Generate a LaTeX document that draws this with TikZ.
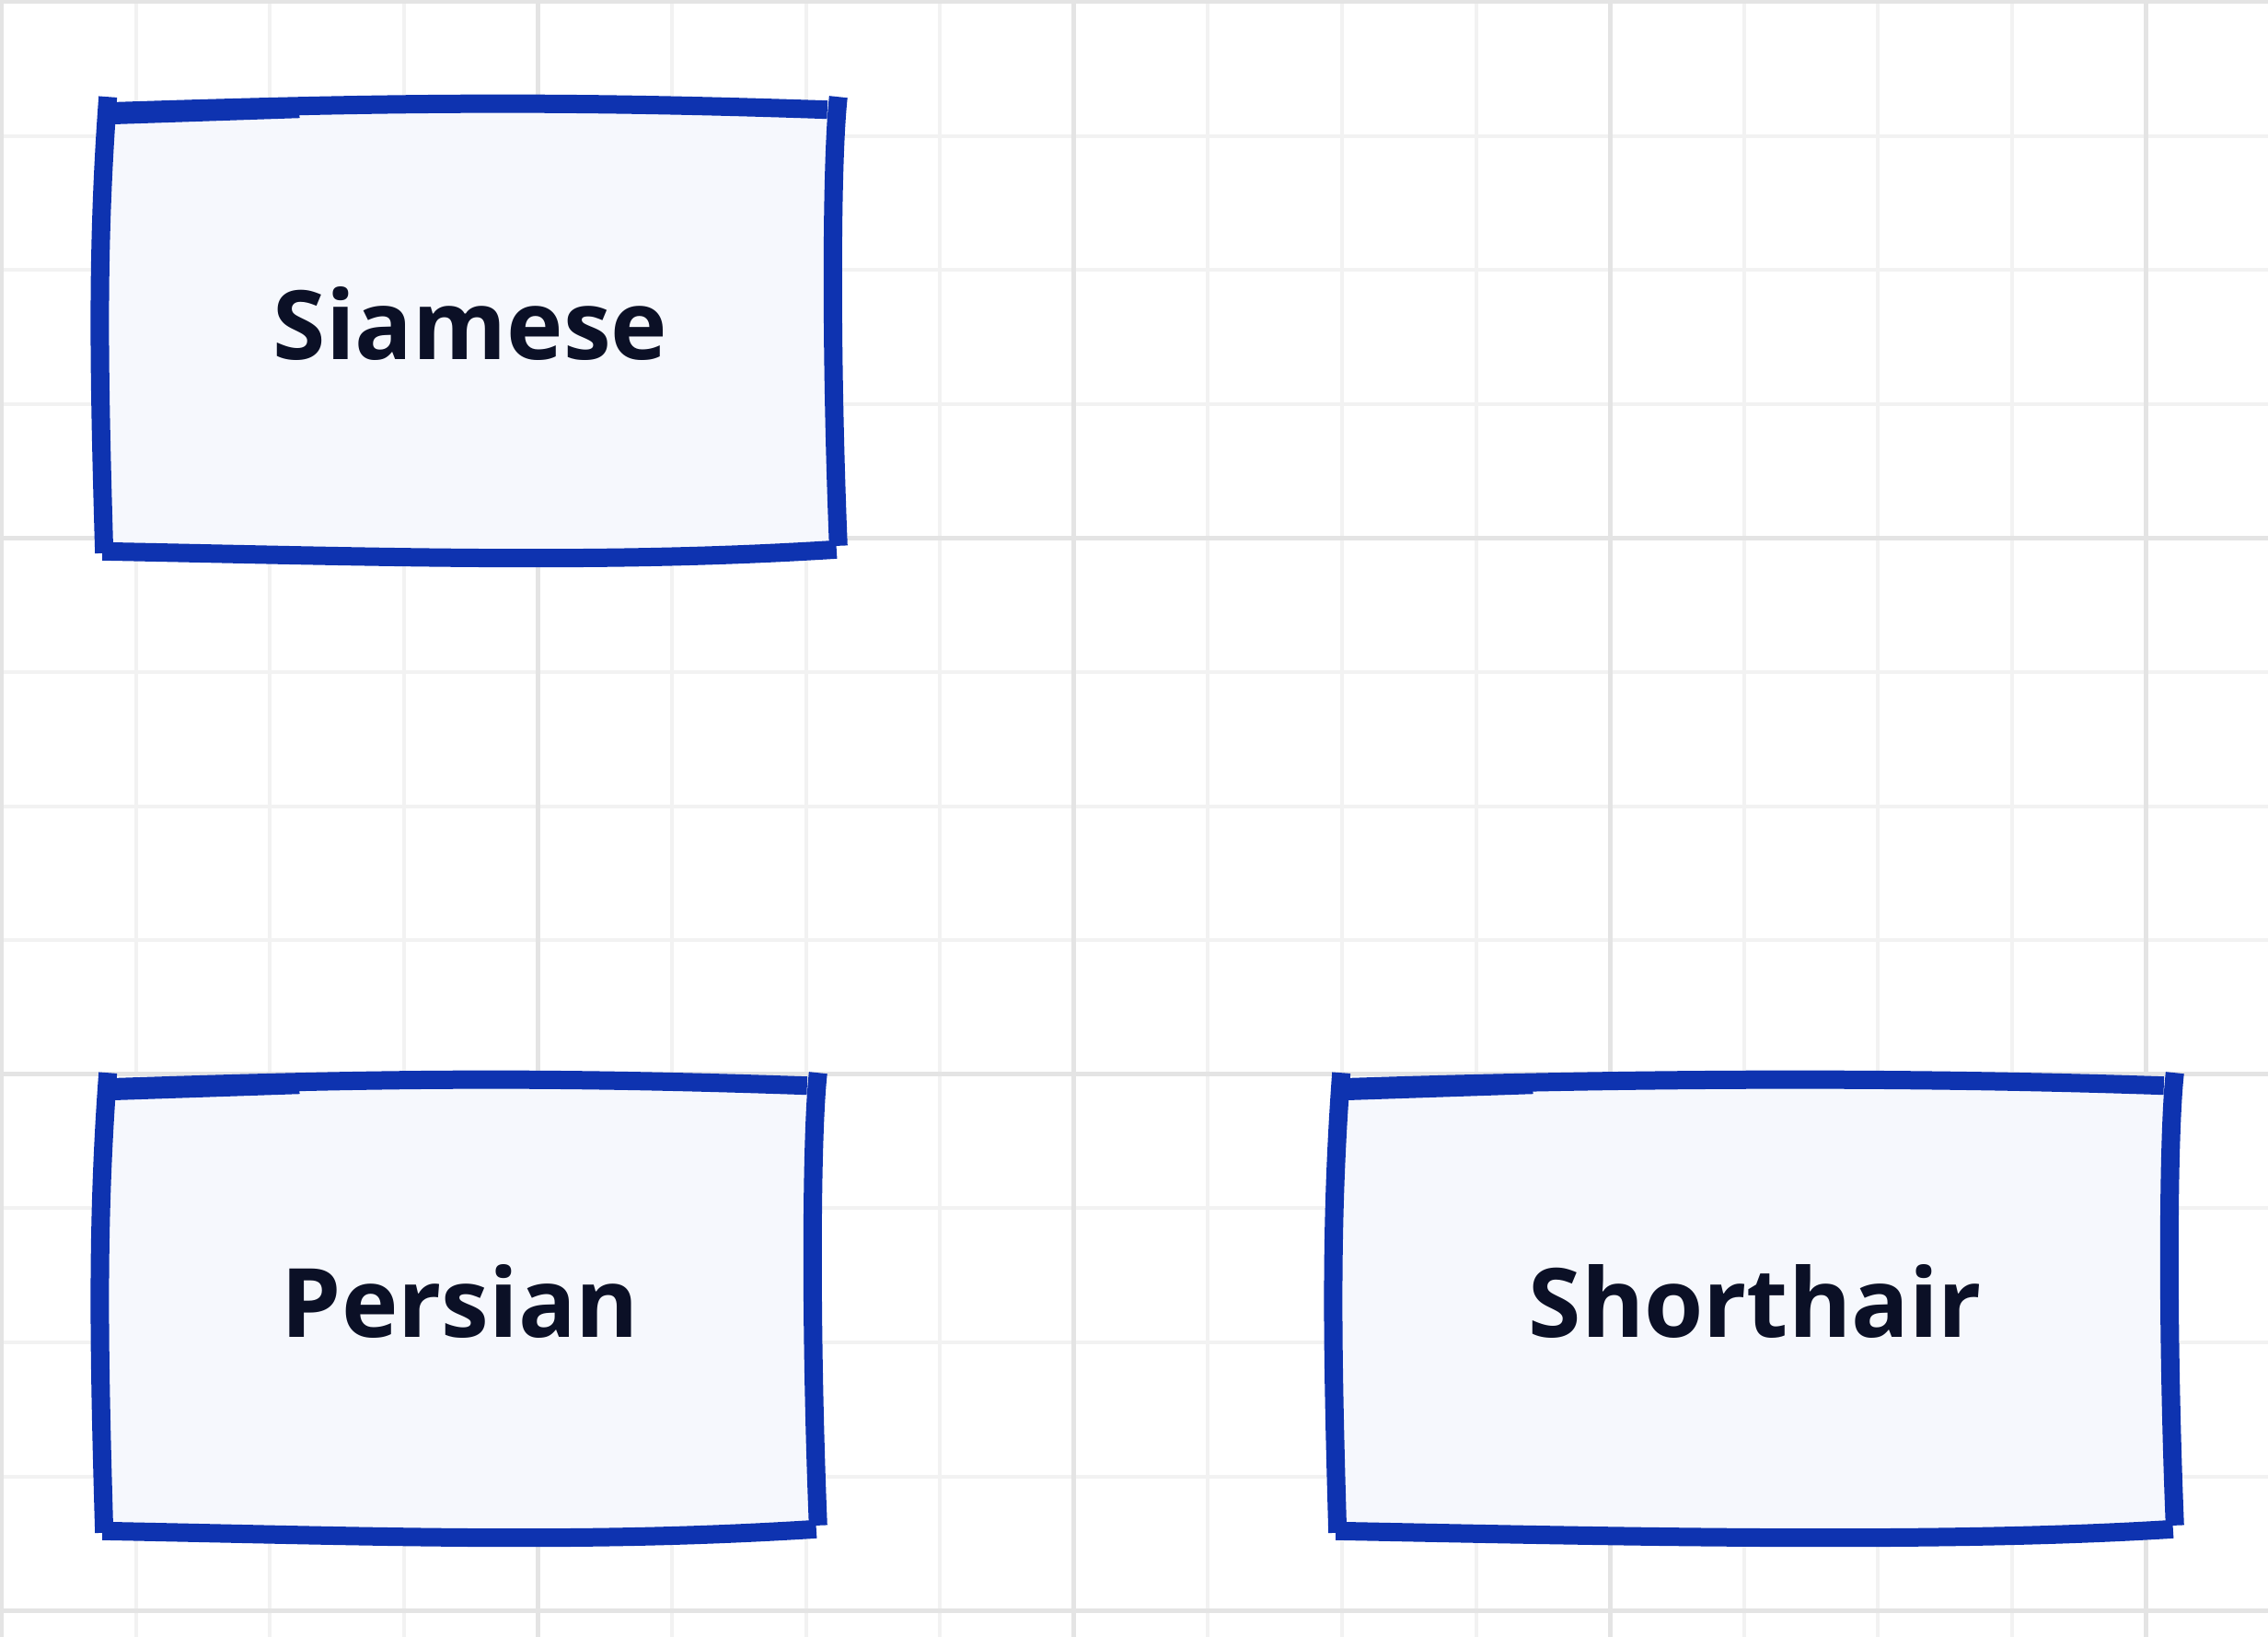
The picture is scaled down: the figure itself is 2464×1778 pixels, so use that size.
\documentclass[tikz,border=0pt]{standalone}
\usepackage{fontspec}
\setmainfont{Open Sans}
\usetikzlibrary{calc}
\definecolor{skblue}{HTML}{0E33B0}
\definecolor{skfill}{HTML}{F6F8FD}
\definecolor{sktext}{HTML}{0B1026}
\definecolor{gridminor}{HTML}{F2F2F2}
\definecolor{gridmajor}{HTML}{E4E4E4}
\newcommand\skframe[1]{%
  \draw[sk] ($(#1.north west)+(0,4)$) .. controls ($(#1.north west)+(300,-6)$) and ($(#1.north east)+(-300,-8)$) .. ($(#1.north east)+(-8,2)$);
  \draw[sk] ($(#1.north west)+(2,8)$) -- ($(#1.north west)+(210,1)$);
  \draw[sk] ($(#1.north east)+(4,-12)$) .. controls ($(#1.north east)+(-4,60)$) and ($(#1.south east)+(-4,-200)$) .. ($(#1.south east)+(4,-4)$);
  \draw[sk] ($(#1.south west)+(-4,2)$) .. controls ($(#1.south west)+(300,8)$) and ($(#1.south east)+(-250,16)$) .. ($(#1.south east)+(2,0)$);
  \draw[sk] ($(#1.north west)+(2,-12)$) .. controls ($(#1.north west)+(-10,150)$) and ($(#1.south west)+(-8,-200)$) .. ($(#1.south west)+(-2,4)$);
}
\begin{document}
\begin{tikzpicture}[x=0.25pt,y=-0.25pt,
  catbox/.style={rectangle, fill=skfill, inner sep=0pt, text=sktext, font=\fontsize{26}{32}\selectfont\bfseries},
  sk/.style={draw=skblue, line width=5pt, line cap=butt, line join=round},
  minorgrid/.style={draw=gridminor, line width=1pt},
  majorgrid/.style={draw=gridmajor, line width=1.2pt}]
\useasboundingbox (0,0) rectangle (2464,1778);
\fill[white] (0,0) rectangle (2464,1778);
\foreach \k in {1,2,3,5,6,7,9,10,11,13,14,15} {
  \draw[minorgrid] ({2+\k*145.6},0) -- ({2+\k*145.6},1778);
}
\foreach \k in {1,2,3,5,6,7,9,10,11} {
  \draw[minorgrid] (0,{2+\k*145.6}) -- (2464,{2+\k*145.6});
}
\foreach \k in {0,4,8,12,16} {
  \draw[majorgrid] ({2+\k*145.6},0) -- ({2+\k*145.6},1778);
}
\foreach \k in {0,4,8,12} {
  \draw[majorgrid] (0,{2+\k*145.6}) -- (2464,{2+\k*145.6});
}
\node[catbox, minimum width=197.5pt, minimum height=119.5pt] (siamese) at (511,357) {\raisebox{3pt}{Siamese}};
\node[catbox, minimum width=192pt, minimum height=120.5pt] (persian) at (500,1419) {\raisebox{3pt}{Persian}};
\node[catbox, minimum width=225.5pt, minimum height=120.5pt] (shorthair) at (1907,1419) {\raisebox{3pt}{Shorthair}};
\skframe{siamese}
\skframe{persian}
\skframe{shorthair}
\end{tikzpicture}
\end{document}
